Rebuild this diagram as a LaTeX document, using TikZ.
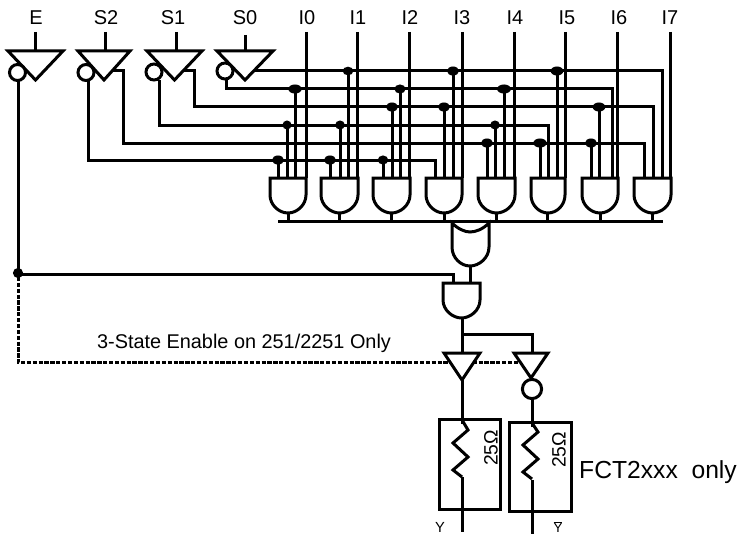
\documentclass[tikz,border=0pt]{standalone}
\usepackage{fontspec}
\setmainfont{Liberation Sans}
\usetikzlibrary{calc}
\tikzset{
	wire/.style={line width=2.25pt, line join=miter},
	inwire/.style={line width=2.25pt},
	gateline/.style={line width=2.25pt, fill=white},
	boxline/.style={line width=2.25pt},
	tristate/.style={line width=2.25pt, dash pattern=on 3.2pt off 1.2pt},
	dotnode/.style={fill=black},
	pinlabel/.style={font=\fontsize{15}{15}\selectfont, inner sep=0pt},
	smalllabel/.style={font=\fontsize{14.5}{15}\selectfont, inner sep=0pt}
}
\def\andgate(#1:#2:#3){\draw[gateline] (#1, #3) -- (#1, #3+17) .. controls (#1, #3+27) and ($0.5*(#1,0)+0.5*(#2,0)+(-9,#3+35)$) .. ($0.5*(#1,0)+0.5*(#2,0)+(0,#3+35)$) .. controls ($0.5*(#1,0)+0.5*(#2,0)+(9,#3+35)$) and (#2, #3+27) .. (#2, #3+17) -- (#2, #3) -- cycle;}
\def\wedge(#1:#2:#3:#4){\draw[gateline, line join=miter] (#1, #3) -- (#2, #3) -- ($0.5*(#1,0)+0.5*(#2,0)+(0,#4)$) -- cycle;}
\begin{document}
\begin{tikzpicture}[x=0.75pt, y=-0.75pt]
			%%%%% LABELS %%%%%
			\useasboundingbox (0, 0) rectangle (739, 535);
			\node[pinlabel] (lblE) at (36, 18) {E};
			\node[pinlabel] (lblStwo) at (106, 18) {S2};
			\node[pinlabel] (lblSone) at (173, 18) {S1};
			\node[pinlabel] (lblSzero) at (245, 18) {S0};
			\node[pinlabel] (lblIzero) at (307, 18) {I0};
			\node[pinlabel] (lblIone) at (358, 18) {I1};
			\node[pinlabel] (lblItwo) at (410, 18) {I2};
			\node[pinlabel] (lblIthree) at (462, 18) {I3};
			\node[pinlabel] (lblIfour) at (515, 18) {I4};
			\node[pinlabel] (lblIfive) at (567, 18) {I5};
			\node[pinlabel] (lblIsix) at (619, 18) {I6};
			\node[pinlabel] (lblIseven) at (670, 18) {I7};
			
			%%%%% SELECT RAILS %%%%%
			\draw[wire] (253, 71) -- (662, 71) -- (662, 178);
			\draw[wire] (226, 80) -- (226, 89) -- (612, 89) -- (612, 178);
			\draw[wire] (183, 71) -- (194, 71) -- (194, 107) -- (653, 107) -- (653, 178);
			\draw[wire] (159, 80) -- (159, 125) -- (548, 125) -- (548, 178);
			\draw[wire] (113, 71) -- (123, 71) -- (123, 143) -- (644, 143) -- (644, 178);
			\draw[wire] (88, 80) -- (88, 160) -- (435, 160) -- (435, 178);
			
			%%%%% DATA INPUTS %%%%%
			\draw[inwire] (306, 32) -- (306, 178);
			\draw[inwire] (357, 32) -- (357, 178);
			\draw[inwire] (409, 32) -- (409, 178);
			\draw[inwire] (462, 32) -- (462, 178);
			\draw[inwire] (514, 32) -- (514, 178);
			\draw[inwire] (565, 32) -- (565, 178);
			\draw[inwire] (617, 32) -- (617, 178);
			\draw[inwire] (670, 32) -- (670, 178);
			
			%%%%% TAPS %%%%%
			\draw[wire] (278, 160) -- (278, 178);
			\draw[wire] (287, 125) -- (287, 178);
			\draw[wire] (295, 89) -- (295, 178);
			\draw[wire] (330, 160) -- (330, 178);
			\draw[wire] (340, 125) -- (340, 178);
			\draw[wire] (348, 71) -- (348, 178);
			\draw[wire] (383, 160) -- (383, 178);
			\draw[wire] (392, 107) -- (392, 178);
			\draw[wire] (400, 89) -- (400, 178);
			\draw[wire] (444, 107) -- (444, 178);
			\draw[wire] (453, 71) -- (453, 178);
			\draw[wire] (487, 143) -- (487, 178);
			\draw[wire] (495, 125) -- (495, 178);
			\draw[wire] (504, 89) -- (504, 178);
			\draw[wire] (540, 143) -- (540, 178);
			\draw[wire] (557, 71) -- (557, 178);
			\draw[wire] (591, 143) -- (591, 178);
			\draw[wire] (599, 107) -- (599, 178);
			
			\fill[dotnode] (348, 71) ellipse (4pt and 3.2pt);
			\fill[dotnode] (453, 71) ellipse (4.5pt and 3.4pt);
			\fill[dotnode] (557, 71) ellipse (4.8pt and 3.4pt);
			\fill[dotnode] (295, 89) ellipse (5pt and 3.4pt);
			\fill[dotnode] (400, 89) ellipse (4.2pt and 3.4pt);
			\fill[dotnode] (504, 89) ellipse (5.2pt and 3.4pt);
			\fill[dotnode] (392, 107) ellipse (4.5pt and 3.4pt);
			\fill[dotnode] (444, 107) ellipse (4.5pt and 3.4pt);
			\fill[dotnode] (599, 107) ellipse (4.8pt and 3.4pt);
			\fill[dotnode] (287, 125) ellipse (3.4pt and 3.4pt);
			\fill[dotnode] (340, 125) ellipse (3.6pt and 3.4pt);
			\fill[dotnode] (495, 125) ellipse (3.6pt and 3.4pt);
			\fill[dotnode] (487, 143) ellipse (4.5pt and 3.4pt);
			\fill[dotnode] (540, 143) ellipse (5pt and 3.4pt);
			\fill[dotnode] (591, 143) ellipse (4.5pt and 3.4pt);
			\fill[dotnode] (278, 160) ellipse (4.5pt and 3.4pt);
			\fill[dotnode] (330, 160) ellipse (4.5pt and 3.4pt);
			\fill[dotnode] (383, 160) ellipse (4pt and 3.4pt);
			
			%%%%% INPUT BUFFERS %%%%%
			\draw[wire] (35, 32) -- (35, 51);
			\draw[wire] (105, 32) -- (105, 51);
			\draw[wire] (176, 32) -- (176, 51);
			\draw[wire] (245, 35) -- (245, 51);
			\wedge(8:63:51:80);
			\wedge(78:130:51:80);
			\wedge(147:202:51:80);
			\wedge(217:273:51:80);
			\draw[gateline] (17.5, 72.5) circle (6pt);
			\draw[gateline] (86, 72.5) circle (6pt);
			\draw[gateline] (154, 72) circle (6pt);
			\draw[gateline] (225, 71) circle (6pt);
			\draw[wire] (18, 80) -- (18, 274);
			
			%%%%% DECODE GATES %%%%%
			\draw[wire] (278, 221) -- (663, 221);
			\draw[wire] (288, 213) -- (288, 221);
			\draw[wire] (339, 213) -- (339, 221);
			\draw[wire] (391, 213) -- (391, 221);
			\draw[wire] (444, 213) -- (444, 221);
			\draw[wire] (496, 213) -- (496, 221);
			\draw[wire] (547, 213) -- (547, 221);
			\draw[wire] (600, 213) -- (600, 221);
			\draw[wire] (652, 213) -- (652, 221);
			\andgate(270:306:178);
			\andgate(321:358:178);
			\andgate(373:410:178);
			\andgate(426:462:178);
			\andgate(478:515:178);
			\andgate(531:565:178);
			\andgate(582:618:178);
			\andgate(634:671:178);
			
			%%%%% OUTPUT STAGE %%%%%
			\draw[gateline] (452, 223) .. controls (458, 229) and (465, 232) .. (470, 232) .. controls (476, 232) and (483, 229) .. (489, 223) -- (489, 247) .. controls (489, 258) and (479, 266) .. (470, 266) .. controls (461, 266) and (452, 258) .. (452, 247) -- cycle;
			\draw[wire] (470, 266) -- (470, 283);
			\draw[wire] (18, 274) -- (453, 274) -- (453, 283);
			\fill[dotnode] (18, 273) circle (3.8pt);
			\andgate(443:480:283);
			\draw[wire] (462, 318) -- (462, 353);
			\draw[wire] (462, 334) -- (532, 334) -- (532, 353);
			\draw[tristate] (18, 277) -- (18, 362) -- (521, 362);
			\wedge(444:480:353:380);
			\wedge(514:548:353:378);
			\draw[gateline] (532, 389) circle (7.2pt);
			\draw[wire] (462, 380) -- (462, 532);
			\draw[wire] (532, 399) -- (532, 534);
			
			\draw[boxline] (439, 419) rectangle (500, 509);
			\draw[boxline] (509, 422) rectangle (571, 511);
			\draw[fill=white, draw=white] (456, 424) rectangle (470, 476);
			\draw[fill=white, draw=white] (526, 427) rectangle (540, 479);
			\draw[wire] (462, 420) -- (468, 430) -- (453, 443) -- (468, 457) -- (453, 470) -- (462, 477);
			\draw[wire] (532, 423) -- (538, 432) -- (523, 445) -- (538, 459) -- (523, 472) -- (532, 479);
			
			\node[smalllabel, rotate=90] (lblRone) at (491, 448) {25Ω};
			\node[smalllabel, rotate=90] (lblRtwo) at (559, 450) {25Ω};
			\node[font=\fontsize{14.9}{15}\selectfont, inner sep=0pt] (lblTri) at (244, 343) {3-State Enable on 251/2251 Only};
			\node[font=\fontsize{18.5}{19}\selectfont, inner sep=0pt] (lblOnly) at (658, 472) {FCT2xxx\ \ only};
			\node[font=\fontsize{11}{11}\selectfont, inner sep=0pt] (lblY) at (440, 527.5) {Y};
			\node[font=\fontsize{10}{12}\selectfont, inner sep=0pt] (lblYbar) at (558, 527) {$\overline{\mbox{Y}}$};
		\end{tikzpicture}
\end{document}
